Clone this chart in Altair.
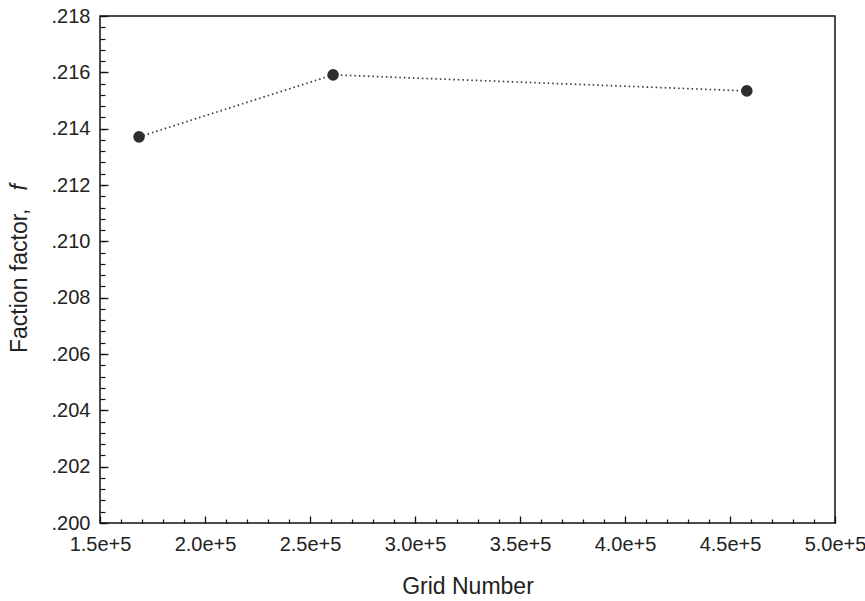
import altair as alt
import pandas as pd

# Friction factor against mesh size (grid independence check)
grid_number = [168600, 261000, 458000]
friction_factor = [0.21371, 0.21591, 0.21534]

# Axis tick positions
x_major = [150000, 200000, 250000, 300000, 350000, 400000, 450000, 500000]
x_minor = [v for v in range(150000, 500001, 10000) if v not in x_major]
y_major = [0.200, 0.202, 0.204, 0.206, 0.208, 0.210, 0.212, 0.214, 0.216, 0.218]
y_minor = [round(0.200 + 0.0004 * i, 4) for i in range(46)]

df = pd.DataFrame({"grid": grid_number, "f": friction_factor})

FONT = "Liberation Sans"
x_scale = alt.Scale(domain=[150000, 500000], nice=False, zero=False)
y_scale = alt.Scale(domain=[0.200, 0.218], nice=False, zero=False)

base = alt.Chart(df)

line = base.mark_line(color="#3a3a3a", strokeWidth=1.7, strokeDash=[1.5, 3]).encode(
    x=alt.X("grid:Q", scale=x_scale, axis=None),
    y=alt.Y("f:Q", scale=y_scale, axis=None),
)

points = base.mark_circle(size=135, color="#2e2e2e", opacity=1).encode(
    x=alt.X("grid:Q", scale=x_scale, axis=None),
    y=alt.Y("f:Q", scale=y_scale, axis=None),
)

# Tick labels and x title (no ticks drawn here)
label_axes = base.mark_point(opacity=0).encode(
    x=alt.X("grid:Q", scale=x_scale, axis=alt.Axis(
        orient="bottom", values=x_major, format=".1e", ticks=False, domain=False,
        grid=False, labelFont=FONT, labelFontSize=20, labelColor="#222222",
        labelPadding=11, labelFlush=False, labelOverlap=False,
        title="Grid Number", titleFont=FONT, titleFontSize=23,
        titleFontWeight="normal", titleColor="#222222", titlePadding=21)),
    y=alt.Y("f:Q", scale=y_scale, axis=alt.Axis(
        orient="left", values=y_major, ticks=False, domain=False, grid=False,
        labelExpr="substring(format(datum.value, '.3f'), 1)",
        labelFont=FONT, labelFontSize=20, labelColor="#222222",
        labelPadding=10, labelFlush=False, labelOverlap=False, title=None)),
)

# Inward major ticks
major_ticks = base.mark_point(opacity=0).encode(
    x=alt.X("grid:Q", scale=x_scale, axis=alt.Axis(
        orient="bottom", values=x_major, labels=False, domain=False, grid=False,
        tickSize=7, tickWidth=1.3, tickColor="#111111", offset=-7, title=None)),
    y=alt.Y("f:Q", scale=y_scale, axis=alt.Axis(
        orient="left", values=y_major, labels=False, domain=False, grid=False,
        tickSize=8, tickWidth=1.3, tickColor="#111111", offset=-8, title=None)),
)

# Inward minor ticks
minor_ticks = base.mark_point(opacity=0).encode(
    x=alt.X("grid:Q", scale=x_scale, axis=alt.Axis(
        orient="bottom", values=x_minor, labels=False, domain=False, grid=False,
        tickSize=4, tickWidth=1.2, tickColor="#111111", offset=-4, title=None)),
    y=alt.Y("f:Q", scale=y_scale, axis=alt.Axis(
        orient="left", values=y_minor, labels=False, domain=False, grid=False,
        tickSize=5, tickWidth=1.2, tickColor="#111111", offset=-5, title=None)),
)

# Y title with italic symbol
title_df = pd.DataFrame({"t": ["Faction factor,"]})
sym_df = pd.DataFrame({"t": ["f"]})
y_title = alt.Chart(title_df).mark_text(
    angle=270, align="left", baseline="middle", font=FONT, fontSize=23,
    color="#222222").encode(x=alt.value(-80), y=alt.value(337), text="t:N")
y_symbol = alt.Chart(sym_df).mark_text(
    angle=270, align="right", baseline="middle", font=FONT, fontSize=23,
    fontStyle="italic", color="#222222").encode(
    x=alt.value(-80), y=alt.value(168), text="t:N")

chart = alt.layer(
    line, points, label_axes, major_ticks, minor_ticks, y_title, y_symbol
).resolve_axis(
    x="independent", y="independent"
).properties(
    width=735, height=507,
    autosize=alt.AutoSizeParams(type="none"),
    padding={"left": 100, "top": 16, "right": 30, "bottom": 78},
    background="white",
).configure_view(
    stroke="#111111", strokeWidth=1.5
)

chart.save("out.html", embed_options={"renderer": "svg", "actions": False})
